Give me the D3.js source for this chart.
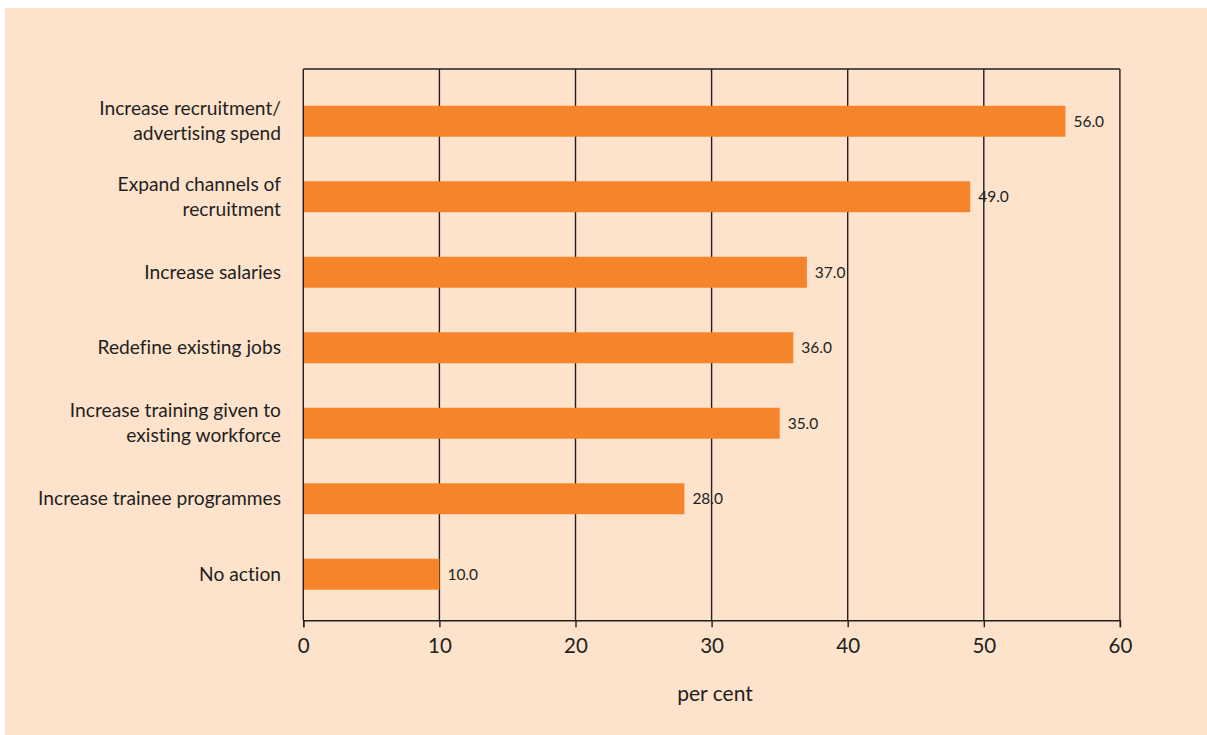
<!DOCTYPE html>
<html>
<head>
<meta charset="utf-8">
<script src="https://cdn.jsdelivr.net/npm/d3@7"></script>
<style>
  body { margin: 0; background: #ffffff; }
  svg { display: block; }
  text { font-family: Lato, "Open Sans", sans-serif; fill: #231f20; font-variant-ligatures: none; }
</style>
</head>
<body>
<svg id="chart" width="1207" height="735"></svg>
<script>
// categories (top to bottom), each label split into its printed lines
const categories = [
  ["Increase recruitment/", "advertising spend"],
  ["Expand channels of", "recruitment"],
  ["Increase salaries"],
  ["Redefine existing jobs"],
  ["Increase training given to", "existing workforce"],
  ["Increase trainee programmes"],
  ["No action"]
];
const values = [56.0, 49.0, 37.0, 36.0, 35.0, 28.0, 10.0];
const xTicks = [0, 10, 20, 30, 40, 50, 60];
const xLabel = "per cent";

const svg = d3.select('#chart');

// peach panel
svg.append('rect')
  .attr('x', 5).attr('y', 8)
  .attr('width', 1207 - 5).attr('height', 735 - 8)
  .attr('fill', '#fde2cc');

const plot = { left: 303.3, right: 1119.9, top: 69, bottom: 620.3 };

const x = d3.scaleLinear().domain([0, 60]).range([plot.left, plot.right]);
const ids = categories.map((c, i) => i);
const y = d3.scaleBand()
  .domain(ids)
  .range([83.5, 612])
  .paddingInner(0.59)
  .paddingOuter(0.295);

// grid lines
svg.append('g').selectAll('line')
  .data(xTicks.slice(1))
  .join('line')
  .attr('x1', d => x(d)).attr('x2', d => x(d))
  .attr('y1', plot.top).attr('y2', plot.bottom)
  .attr('stroke', '#231f20').attr('stroke-width', 1.4);

// top frame line
svg.append('line')
  .attr('x1', plot.left).attr('x2', plot.right)
  .attr('y1', plot.top).attr('y2', plot.top)
  .attr('stroke', '#231f20').attr('stroke-width', 1.4);

// bars
svg.append('g').selectAll('rect')
  .data(values)
  .join('rect')
  .attr('x', x(0))
  .attr('y', (d, i) => y(i))
  .attr('width', d => x(d) - x(0))
  .attr('height', y.bandwidth())
  .attr('fill', '#f5842b');

// value labels
svg.append('g').selectAll('text')
  .data(values)
  .join('text')
  .attr('x', d => x(d) + 8)
  .attr('y', (d, i) => y(i) + y.bandwidth() / 2 + 5.5)
  .attr('font-size', 15.5)
  .text(d => d.toFixed(1));

// y axis (left line + category labels)
svg.append('line')
  .attr('x1', plot.left).attr('x2', plot.left)
  .attr('y1', plot.top).attr('y2', plot.bottom)
  .attr('stroke', '#231f20').attr('stroke-width', 1.4);

const lineH = 25;
const catText = svg.append('g').selectAll('text')
  .data(categories)
  .join('text')
  .attr('text-anchor', 'end')
  .attr('font-size', 19.2);
catText.each(function(lines, i) {
  const cy = y(i) + y.bandwidth() / 2 + 6.5 - (lines.length - 1) * lineH / 2;
  d3.select(this).selectAll('tspan')
    .data(lines)
    .join('tspan')
    .attr('x', 281)
    .attr('y', (l, j) => cy + j * lineH)
    .text(l => l);
});

// x axis
const xAxis = d3.axisBottom(x)
  .tickValues(xTicks)
  .tickSize(7)
  .tickPadding(11)
  .tickFormat(d3.format('d'));

const gx = svg.append('g')
  .attr('transform', `translate(0, ${plot.bottom})`)
  .call(xAxis);
gx.select('.domain').attr('stroke', '#231f20').attr('stroke-width', 1.4);
gx.selectAll('.tick line').attr('stroke', '#231f20').attr('stroke-width', 1.4);
gx.selectAll('.tick text')
  .attr('font-size', 20.5)
  .attr('font-family', 'Lato, "Open Sans", sans-serif')
  .attr('fill', '#231f20');

svg.append('text')
  .attr('x', 715)
  .attr('y', 700.5)
  .attr('text-anchor', 'middle')
  .attr('font-size', 21)
  .text(xLabel);
</script>
</body>
</html>
